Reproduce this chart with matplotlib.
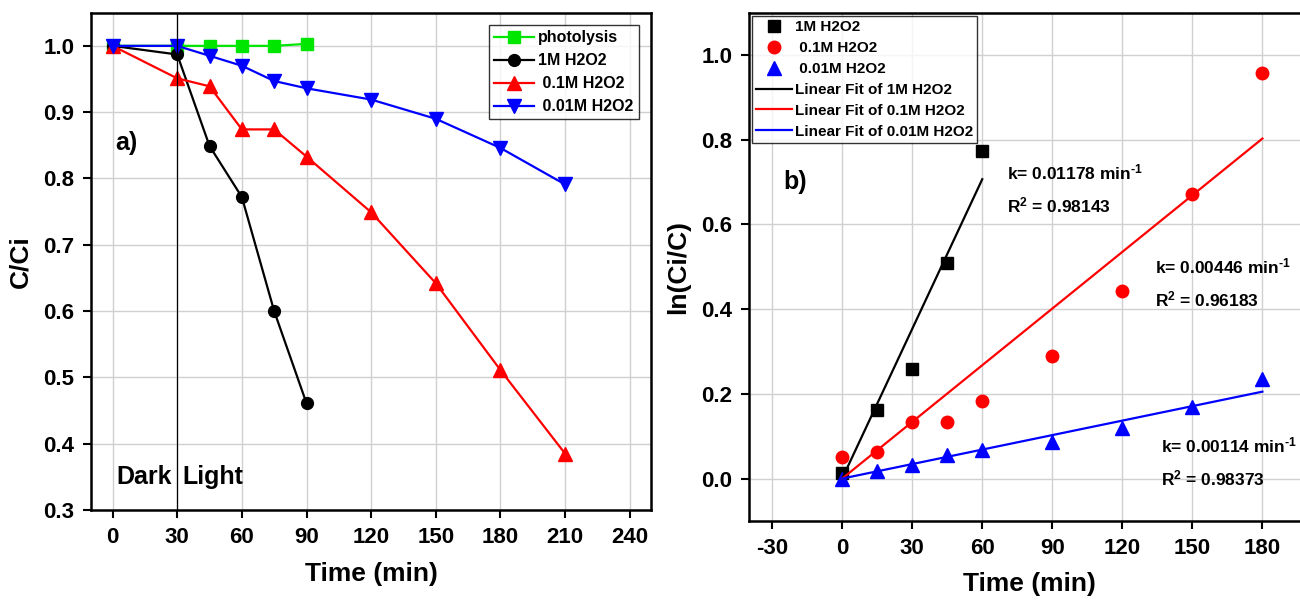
import matplotlib.pyplot as plt

plt.rcParams['font.family'] = ['Liberation Sans', 'DejaVu Sans']
plt.rcParams['font.weight'] = 'bold'
plt.rcParams['axes.labelweight'] = 'bold'
plt.rcParams['axes.unicode_minus'] = False
plt.rcParams['mathtext.fontset'] = 'custom'
plt.rcParams['mathtext.rm'] = 'Liberation Sans:bold'
plt.rcParams['mathtext.bf'] = 'Liberation Sans:bold'
plt.rcParams['mathtext.default'] = 'rm'

# Données panneau a) : C/Ci en fonction du temps
t_photo = [0, 30, 45, 60, 75, 90]
c_photo = [1.0, 1.0, 1.0, 1.0, 1.0, 1.003]
t_1m = [0, 30, 45, 60, 75, 90]
c_1m = [1.0, 0.987, 0.849, 0.772, 0.600, 0.461]
t_01m = [0, 30, 45, 60, 75, 90, 120, 150, 180, 210]
c_01m = [1.0, 0.951, 0.939, 0.874, 0.874, 0.833, 0.749, 0.642, 0.511, 0.385]
t_001m = [0, 30, 45, 60, 75, 90, 120, 150, 180, 210]
c_001m = [1.0, 1.0, 0.985, 0.970, 0.947, 0.936, 0.919, 0.890, 0.846, 0.791]

# Données panneau b) : ln(Ci/C)
tb_1m = [0, 15, 30, 45, 60]
ln_1m = [0.013, 0.163, 0.259, 0.510, 0.773]
tb_01m = [0, 15, 30, 45, 60, 90, 120, 150, 180]
ln_01m = [0.052, 0.063, 0.134, 0.134, 0.183, 0.289, 0.444, 0.672, 0.957]
tb_001m = [0, 15, 30, 45, 60, 90, 120, 150, 180]
ln_001m = [0.0, 0.017, 0.031, 0.055, 0.067, 0.087, 0.119, 0.168, 0.235]

# Constantes cinétiques et R2
k_values = [0.01178, 0.00446, 0.00114]
r2_values = ['0.98143', '0.96183', '0.98373']
fit_end = [60, 180, 180]

fig = plt.figure(figsize=(13, 6.05), dpi=100)
ax1 = fig.add_axes([0.070, 0.157, 0.431, 0.822])
ax2 = fig.add_axes([0.576, 0.139, 0.431, 0.840])

ms = 8.5
lw = 1.6

# ---- Panneau a)
ax1.plot(t_photo, c_photo, '-s', color='#00e600', ms=ms, lw=lw, label='photolysis')
ax1.plot(t_1m, c_1m, '-o', color='black', ms=ms, lw=lw, label='1M H2O2')
ax1.plot(t_01m, c_01m, '-^', color='red', ms=ms + 1, lw=lw, label=' 0.1M H2O2')
ax1.plot(t_001m, c_001m, '-v', color='blue', ms=ms + 1, lw=lw, label=' 0.01M H2O2')
ax1.axvline(30, color='black', lw=0.9)
ax1.set_xlim(-10, 250)
ax1.set_ylim(0.3, 1.05)
ax1.set_xticks(range(0, 241, 30))
ax1.set_yticks([0.3, 0.4, 0.5, 0.6, 0.7, 0.8, 0.9, 1.0])
ax1.set_yticklabels(['0.3', '0.4', '0.5', '0.6', '0.7', '0.8', '0.9', '1.0'])
ax1.set_xlabel('Time (min)', fontsize=19, labelpad=10)
ax1.set_ylabel('C/Ci', fontsize=19, labelpad=8)
ax1.text(1.3, 0.854, 'a)', fontsize=18, va='center')
ax1.text(2.0, 0.35, 'Dark', fontsize=18, va='center')
ax1.text(32.2, 0.35, 'Light', fontsize=18, va='center')
leg1 = ax1.legend(loc='upper right', fontsize=11.5, frameon=True, fancybox=False,
                  edgecolor='black', borderpad=0.3, labelspacing=0.5,
                  handlelength=2.5, handletextpad=0.3, borderaxespad=0.8)
leg1.get_frame().set_linewidth(1.0)

# ---- Panneau b)
ax2.plot(tb_1m, ln_1m, 's', color='black', ms=ms, label='1M H2O2')
ax2.plot(tb_01m, ln_01m, 'o', color='red', ms=ms + 0.5, label=' 0.1M H2O2')
ax2.plot(tb_001m, ln_001m, '^', color='blue', ms=ms + 1, label=' 0.01M H2O2')
fit_colors = ['black', 'red', 'blue']
fit_names = ['Linear Fit of 1M H2O2', 'Linear Fit of 0.1M H2O2', 'Linear Fit of 0.01M H2O2']
for k, te, c, name in zip(k_values, fit_end, fit_colors, fit_names):
    ax2.plot([0, te], [0, k * te], '-', color=c, lw=lw, label=name)

ax2.set_xlim(-40, 200)
ax2.set_ylim(-0.1, 1.1)
ax2.set_xticks(range(-30, 181, 30))
ax2.set_yticks([0.0, 0.2, 0.4, 0.6, 0.8, 1.0])
ax2.set_yticklabels(['0.0', '0.2', '0.4', '0.6', '0.8', '1.0'])
ax2.set_xlabel('Time (min)', fontsize=19, labelpad=10)
ax2.set_ylabel('ln(Ci/C)', fontsize=19, labelpad=8)
ax2.text(-25, 0.70, 'b)', fontsize=18, va='center')

ann_pos = [(70.6, 0.723, 0.646), (134.2, 0.50, 0.423), (136.5, 0.077, 0.0)]
for (x, yk, yr), k, r2 in zip(ann_pos, k_values, r2_values):
    ax2.text(x, yk, 'k= %.5f min$^{\\text{-1}}$' % k, fontsize=12.5, va='center')
    ax2.text(x, yr, 'R$^{2}$ = ' + r2, fontsize=12.5, va='center')

leg2 = ax2.legend(loc='upper left', fontsize=11, frameon=True, fancybox=False,
                  edgecolor='black', borderpad=0.3, labelspacing=0.45,
                  handlelength=2.3, handletextpad=0.2, borderaxespad=0.2)
leg2.get_frame().set_linewidth(1.0)

for ax in (ax1, ax2):
    ax.grid(True, color='#d0d0d0', lw=1.0)
    ax.set_axisbelow(True)
    for s in ax.spines.values():
        s.set_linewidth(1.8)
    ax.tick_params(direction='out', length=6, width=1.5, labelsize=16, pad=6)
    for lab in ax.get_xticklabels() + ax.get_yticklabels():
        lab.set_fontweight('bold')

fig.savefig('out.png', dpi=100)
